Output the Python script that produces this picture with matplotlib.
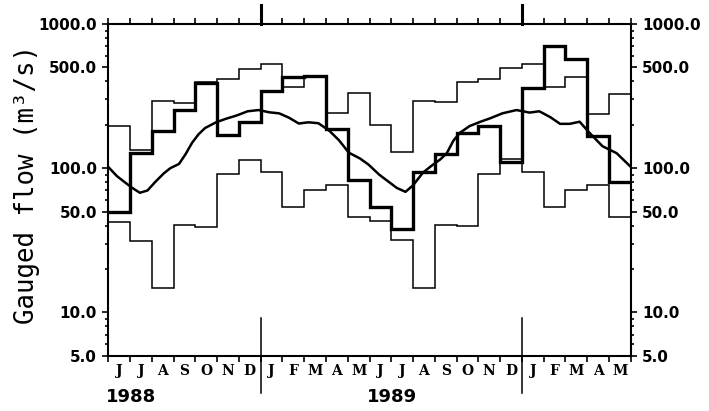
import matplotlib
matplotlib.use("Agg")
import matplotlib.pyplot as plt
from matplotlib.ticker import NullFormatter
from matplotlib.transforms import blended_transform_factory
import numpy as np

# months Jun 1988 .. May 1990
month_letters = ["J", "J", "A", "S", "O", "N", "D",
                 "J", "F", "M", "A", "M", "J", "J", "A", "S", "O", "N", "D",
                 "J", "F", "M", "A", "M"]
year_names = ["1988", "1989"]
year_label_pos = [-0.1, 11.9]
year_breaks = [7, 19]

# monthly step series (m3/s)
upper_flow = [196, 134, 293, 285, 397, 416, 490, 528, 367, 434, 240, 330,
              199, 130, 292, 288, 398, 416, 495, 526, 364, 431, 238, 327]
lower_flow = [42, 31, 14.7, 40.3, 39.3, 91, 114, 94, 54, 71, 77, 46,
              43, 31.7, 14.7, 40.3, 40, 91, 116, 94, 54, 70.6, 76, 46]
actual_flow = [50, 127, 182, 255, 390, 170, 208, 345, 431, 434, 186, 83,
               54, 37.8, 94.5, 126, 176, 196, 111, 358, 700, 572, 166, 80]

# long-term mean curve (month position, flow)
mean_pos = [0.00, 0.40, 0.80, 1.10, 1.45, 1.80, 2.15, 2.55, 2.85, 3.25,
            3.55, 3.85, 4.15, 4.45, 4.95, 5.40, 5.90, 6.40, 6.90, 7.40,
            7.85, 8.30, 8.75, 9.20, 9.65, 10.15, 10.60, 11.05, 11.55, 11.95,
            12.45, 12.90, 13.25, 13.65, 14.00, 14.45, 14.85, 15.25, 15.55, 15.85,
            16.15, 16.60, 17.10, 17.55, 18.10, 18.75, 19.35, 19.80, 20.30, 20.75,
            21.20, 21.65, 22.10, 22.70, 23.35, 24.00]
mean_flow = [102, 88, 79, 73, 67.5, 70, 80, 92, 100, 107,
             125, 150, 172, 190, 208, 220, 232, 248, 253, 244,
             240, 224, 204, 208, 205, 182, 156, 128, 117, 106,
             90, 80, 73, 68.5, 76, 93, 104, 115, 127, 155,
             176, 196, 210, 222, 240, 253, 243, 248, 226, 203,
             203, 210, 176, 142, 127, 102]

y_major = [5, 10, 50, 100, 500, 1000]
y_minor = [6, 7, 8, 9, 20, 30, 40, 60, 70, 80, 90,
           200, 300, 400, 600, 700, 800, 900]

edges = np.arange(len(month_letters) + 1)
centers = edges[:-1] + 0.5

fig = plt.figure(figsize=(7.09, 4.11), dpi=100)
ax = fig.add_axes([0.1527, 0.1345, 0.737, 0.8071])

ax.stairs(upper_flow, edges, baseline=None, color="black", linewidth=1.1)
ax.stairs(lower_flow, edges, baseline=None, color="black", linewidth=1.1)
ax.stairs(actual_flow, edges, baseline=None, color="black", linewidth=2.4)
ax.plot(mean_pos, mean_flow, color="black", linewidth=1.8)

ax.set_yscale("log")
ax.set_ylim(5, 1000)
ax.set_xlim(0, len(month_letters))

for s in ax.spines.values():
    s.set_linewidth(1.5)

tick_font = {"family": "DejaVu Sans", "weight": "bold", "size": 11}
ax.set_yticks(y_major, labels=[f"{v:.1f}" for v in y_major])
ax.set_yticks(y_minor, labels=[""] * len(y_minor), minor=True)
ax.tick_params(axis="y", which="both", left=True, right=True,
               labelleft=True, labelright=True, direction="out", width=1.2)
ax.tick_params(axis="y", which="major", length=4, pad=4)
ax.tick_params(axis="y", which="minor", length=2.5)
for lab in ax.get_yticklabels():
    lab.set_fontproperties(tick_font)

ax.set_xticks(edges)
ax.xaxis.set_major_formatter(NullFormatter())
ax.set_xticks(centers, labels=month_letters, minor=True)
ax.tick_params(axis="x", which="major", top=True, bottom=True,
               direction="out", length=4, width=1.2)
ax.tick_params(axis="x", which="minor", length=0, pad=6)
for lab in ax.get_xticklabels(minor=True):
    lab.set_fontproperties({"family": "DejaVu Serif", "weight": "bold", "size": 10})

trans = blended_transform_factory(ax.transData, ax.transAxes)
for xb in year_breaks:
    ax.plot([xb, xb], [1.0, 1.057], transform=trans, color="black",
            linewidth=2.2, clip_on=False)
    ax.plot([xb, xb], [0.114, -0.112], transform=trans, color="black",
            linewidth=1.1, clip_on=False)

for name, xp in zip(year_names, year_label_pos):
    ax.text(xp, -0.125, name, transform=trans, ha="left", va="center",
            fontsize=13, fontweight="bold", family="DejaVu Sans")

fig.text(0.038, 0.55, "Gauged flow (m³/s)", rotation=90, ha="center",
         va="center", family="DejaVu Sans Mono", fontsize=18.5)

fig.savefig("out.png", dpi=100)
